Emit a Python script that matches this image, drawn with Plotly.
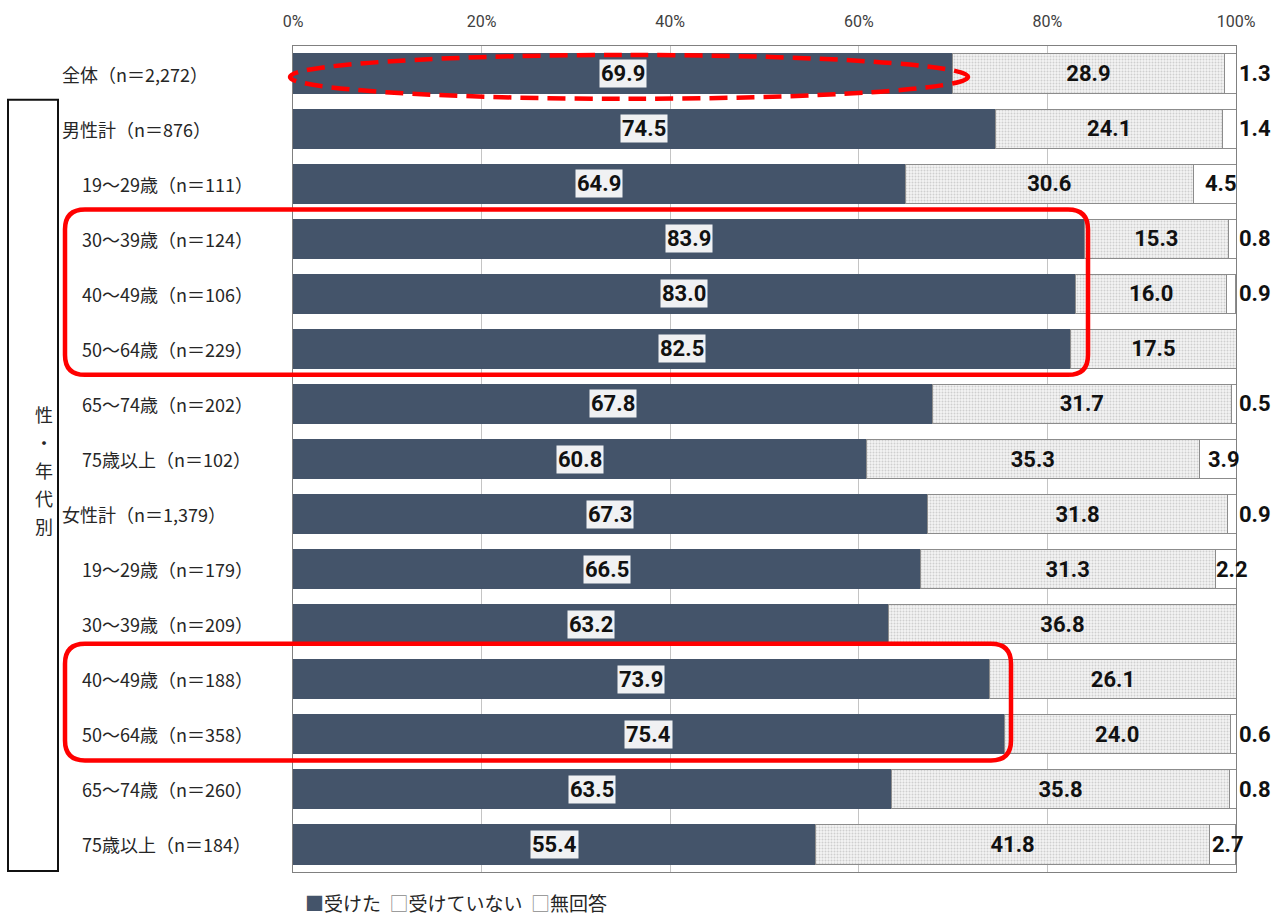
import plotly.graph_objects as go

# Survey result: share of respondents by sex and age group (%)
row_labels = [
    "全体（n＝2,272）", "男性計（n＝876）", "19～29歳（n＝111）", "30～39歳（n＝124）",
    "40～49歳（n＝106）", "50～64歳（n＝229）", "65～74歳（n＝202）", "75歳以上（n＝102）",
    "女性計（n＝1,379）", "19～29歳（n＝179）", "30～39歳（n＝209）", "40～49歳（n＝188）",
    "50～64歳（n＝358）", "65～74歳（n＝260）", "75歳以上（n＝184）",
]
is_total = [True, True, False, False, False, False, False, False,
            True, False, False, False, False, False, False]
received = [69.9, 74.5, 64.9, 83.9, 83.0, 82.5, 67.8, 60.8, 67.3, 66.5, 63.2, 73.9, 75.4, 63.5, 55.4]
not_received = [28.9, 24.1, 30.6, 15.3, 16.0, 17.5, 31.7, 35.3, 31.8, 31.3, 36.8, 26.1, 24.0, 35.8, 41.8]
no_answer = [1.3, 1.4, 4.5, 0.8, 0.9, None, 0.5, 3.9, 0.9, 2.2, None, None, 0.6, 0.8, 2.7]
series_names = ["受けた", "受けていない", "無回答"]
x_ticks = [0, 20, 40, 60, 80, 100]

W, H = 1284, 915
ML, MR, MT, MB = 293, 48, 43, 43
PW, PH = W - ML - MR, H - MT - MB

DARK = "#44546A"
EDGE = "#8c8c8c"
LABEL_FONT = "Noto Sans CJK JP"
NUM_FONT = "Roboto, Noto Sans CJK JP"
NUM = dict(family=NUM_FONT, size=22, color="#111111", weight="bold")


def fx(px):
    return (px - ML) / PW


def fy(py):
    return (H - MB - py) / PH


rows = list(range(len(row_labels)))

fig = go.Figure()
fig.add_trace(go.Bar(
    y=rows, x=received, orientation="h", name=series_names[0],
    marker=dict(color=DARK, line=dict(color=DARK, width=1)),
))
fig.add_trace(go.Bar(
    y=rows, x=not_received, orientation="h", name=series_names[1],
    marker=dict(color="#f4f4f4", line=dict(color=EDGE, width=1),
                pattern=dict(shape=".", fgcolor="#a9a9a9", bgcolor="#f4f4f4", size=3, solidity=0.35)),
    text=[f"{v:.1f}" for v in not_received], textposition="inside",
    insidetextanchor="middle", textangle=0, constraintext="none",
    textfont=NUM,
))
fig.add_trace(go.Bar(
    y=rows, x=[v if v is not None else 0 for v in no_answer], orientation="h", name=series_names[2],
    marker=dict(color="#ffffff", line=dict(color=EDGE, width=1)),
))

annotations = []
# labels on the dark segment, with a white backing
for i, v in enumerate(received):
    annotations.append(dict(
        x=v / 2, y=i, xref="x", yref="y", text=f"{v:.1f}", showarrow=False,
        font=NUM, bgcolor="rgba(255,255,255,0.92)", borderpad=1,
    ))
# labels for the no-answer segment
for i, v in enumerate(no_answer):
    if v is None:
        continue
    if v >= 2:
        start = received[i] + not_received[i]
        annotations.append(dict(
            x=start + v / 2, y=i, xref="x", yref="y", text=f"{v:.1f}", showarrow=False,
            font=NUM, xanchor="center", xshift=6,
        ))
    else:
        annotations.append(dict(
            x=100, y=i, xref="x", yref="y", text=f"{v:.1f}", showarrow=False,
            font=NUM, xanchor="left", xshift=1,
        ))
# row labels
for i, lab in enumerate(row_labels):
    annotations.append(dict(
        x=fx(60 if is_total[i] else 80), y=i, xref="paper", yref="y", text=lab,
        showarrow=False, xanchor="left", font=dict(family=LABEL_FONT, size=18, color="#262626"),
    ))
# vertical group caption
for ch, py in zip("性・年代別", [412, 440, 469, 497, 525]):
    annotations.append(dict(
        x=fx(33), y=fy(py), xref="paper", yref="paper", text=ch, showarrow=False,
        font=dict(family=LABEL_FONT, size=18, color="#262626"),
    ))
# legend line
annotations.append(dict(
    x=fx(303), y=fy(903), xref="paper", yref="paper", xanchor="left", yanchor="middle",
    showarrow=False,
    text=(f'<span style="color:{DARK}">■</span>{series_names[0]}&nbsp;&nbsp;'
          f'<span style="color:#8a8a8a">□</span>{series_names[1]}&nbsp;&nbsp;'
          f'<span style="color:#8a8a8a">□</span>{series_names[2]}'),
    font=dict(family=LABEL_FONT, size=19, color="#262626"),
))


def rounded_rect(x0, y0, x1, y1, r):
    ax, ay = r / PW, r / PH
    X0, X1, Y0, Y1 = fx(x0), fx(x1), fy(y0), fy(y1)  # Y0 is top
    return (f"M {X0 + ax},{Y0} L {X1 - ax},{Y0} Q {X1},{Y0} {X1},{Y0 - ay} "
            f"L {X1},{Y1 + ay} Q {X1},{Y1} {X1 - ax},{Y1} "
            f"L {X0 + ax},{Y1} Q {X0},{Y1} {X0},{Y1 + ay} "
            f"L {X0},{Y0 - ay} Q {X0},{Y0} {X0 + ax},{Y0} Z")


shapes = [
    # frame around the group caption
    dict(type="rect", xref="paper", yref="paper", x0=fx(8), x1=fx(58), y0=fy(871), y1=fy(97),
         line=dict(color="#111111", width=2)),
    # highlight marks
    dict(type="circle", xref="paper", yref="paper", x0=fx(290), x1=fx(968), y0=fy(96), y1=fy(52),
         line=dict(color="#ff0000", width=4.5, dash="18px,9px")),
    dict(type="path", xref="paper", yref="paper", path=rounded_rect(65, 207, 1088, 373, 20),
         line=dict(color="#ff0000", width=4.5)),
    dict(type="path", xref="paper", yref="paper", path=rounded_rect(65, 643, 1011, 760, 20),
         line=dict(color="#ff0000", width=4.5)),
]

fig.update_layout(
    width=W, height=H, margin=dict(l=ML, r=MR, t=MT, b=MB),
    barmode="stack", bargap=0.29, showlegend=False,
    plot_bgcolor="white", paper_bgcolor="white",
    annotations=annotations, shapes=shapes,
    xaxis=dict(range=[0, 100], side="top", tickvals=x_ticks, ticktext=[f"{v}%" for v in x_ticks],
               showgrid=True, gridcolor="#c4c4c4", gridwidth=1, zeroline=False,
               showline=True, linecolor="#808080", linewidth=1, mirror=True,
               ticks="", ticklabelstandoff=12,
               tickfont=dict(family=NUM_FONT, size=16, color="#404040")),
    yaxis=dict(range=[len(rows) - 0.5, -0.5], showticklabels=False, showgrid=False,
               zeroline=False, showline=True, linecolor="#808080", linewidth=1, mirror=True,
               ticks=""),
)

fig.write_html("out.html")
